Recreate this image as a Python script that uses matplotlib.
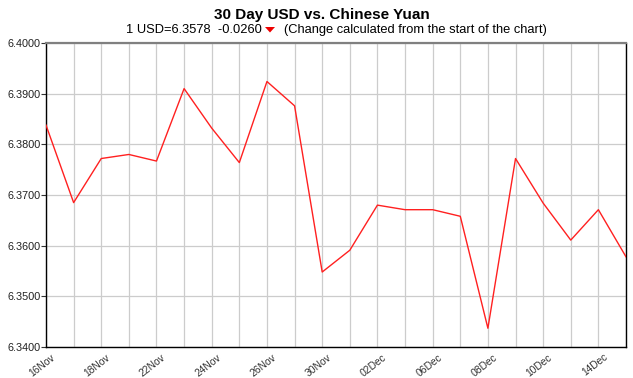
import matplotlib
matplotlib.use("Agg")
import matplotlib.pyplot as plt
from matplotlib.patches import Polygon
from matplotlib.transforms import ScaledTranslation

dates = ["16Nov", "17Nov", "18Nov", "19Nov", "22Nov", "23Nov", "24Nov", "25Nov",
         "26Nov", "29Nov", "30Nov", "01Dec", "02Dec", "03Dec", "06Dec", "07Dec",
         "08Dec", "09Dec", "10Dec", "13Dec", "14Dec", "15Dec"]
rates = [6.3838, 6.3685, 6.3772, 6.3780, 6.3767, 6.3910, 6.3832, 6.3764,
         6.3924, 6.3876, 6.3548, 6.3591, 6.3680, 6.3671, 6.3671, 6.3658,
         6.3437, 6.3772, 6.3684, 6.3611, 6.3671, 6.3578]
y_ticks = [6.34, 6.35, 6.36, 6.37, 6.38, 6.39, 6.40]
label_idx = list(range(0, 22, 2))

plt.rcParams['font.family'] = ['Liberation Sans', 'DejaVu Sans']

W, H = 633, 378
fig = plt.figure(figsize=(W/100, H/100), dpi=100)
ax = fig.add_axes([46/W, 1-347/H, (626-46)/W, (347-43)/H])

x = list(range(len(dates)))
ax.plot(x, rates, color='#ff2020', lw=1.0, zorder=3)
ax.set_xlim(0, len(dates)-1)
ax.set_ylim(6.34, 6.40)

ax.set_xticks(x)
ax.set_xticklabels([d if i in label_idx else "" for i, d in enumerate(dates)],
                   rotation=38, ha='right', va='center', rotation_mode='anchor',
                   fontsize=7.4, color='#333333')
ax.tick_params(axis='x', length=0, pad=0)
off = ScaledTranslation(8/100, -9/100, fig.dpi_scale_trans)
for lab in ax.get_xticklabels():
    lab.set_transform(lab.get_transform() + off)

ax.set_yticks(y_ticks)
ax.set_yticklabels([f"{v:.4f}" for v in y_ticks], fontsize=7.8, color='#222222')
ax.tick_params(axis='y', length=3.5, width=0.8, color='#333333', pad=0.5)

ax.grid(True, color='#cccccc', lw=0.9)
ax.set_axisbelow(True)
for s in ['left', 'bottom', 'right']:
    ax.spines[s].set_color('#000000')
    ax.spines[s].set_linewidth(1.0)
ax.spines['top'].set_color('#808080')
ax.spines['top'].set_linewidth(1.6)

fig.text(322/W, 1-15/H, "30 Day USD vs. Chinese Yuan", ha='center', va='center',
         fontsize=11, fontweight='bold', color='#000000')
fig.text(126/W, 1-30/H, "1 USD=6.3578  -0.0260", ha='left', va='center',
         fontsize=9.3, color='#000000')
tri = Polygon([[265/W, 1-27/H], [275/W, 1-27/H], [270/W, 1-32.5/H]], closed=True,
              transform=fig.transFigure, facecolor='#ee0000', edgecolor='none')
fig.add_artist(tri)
fig.text(284/W, 1-30/H, "(Change calculated from the start of the chart)",
         ha='left', va='center', fontsize=9.3, color='#000000')

fig.savefig("out.png", dpi=100)
